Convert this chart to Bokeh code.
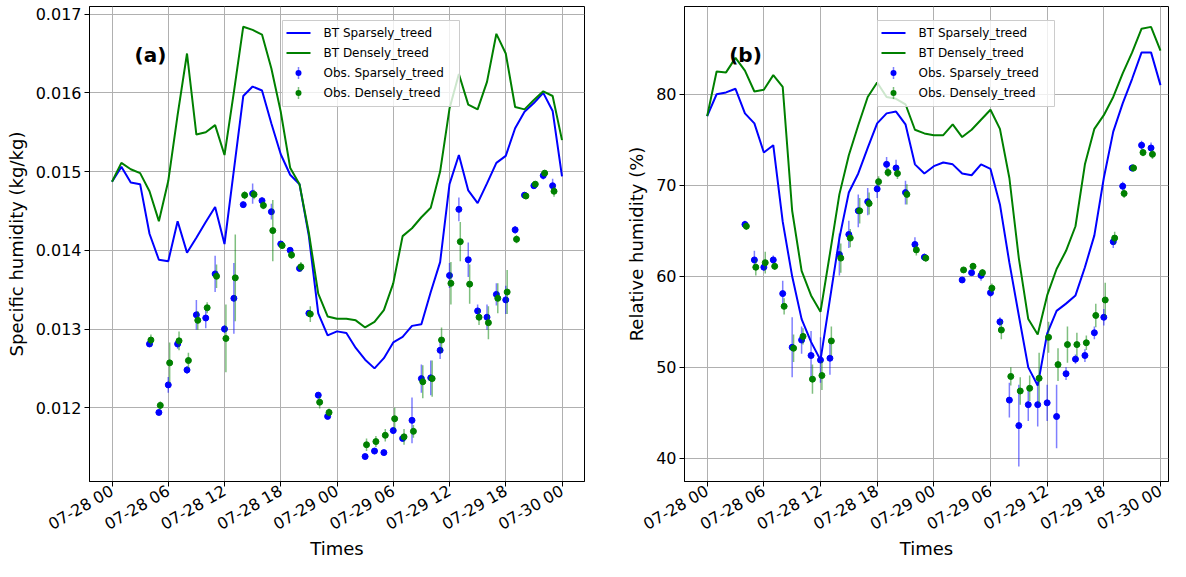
import math
from bokeh.plotting import figure
from bokeh.layouts import row
from bokeh.models import ColumnDataSource, FixedTicker, Range1d, Label, BoxAnnotation, Arrow
from bokeh.transform import dodge
from bokeh.embed import file_html
from bokeh.resources import INLINE

# ---------------- data ----------------
hours = list(range(49))
tick_hours = [0, 6, 12, 18, 24, 30, 36, 42, 48]
tick_labels = ["07-28 00", "07-28 06", "07-28 12", "07-28 18", "07-29 00",
               "07-29 06", "07-29 12", "07-29 18", "07-30 00"]
obs_hours = list(range(4, 24)) + list(range(27, 48))

sh_ticks = [0.012, 0.013, 0.014, 0.015, 0.016, 0.017]
sh_tick_labels = ["0.012", "0.013", "0.014", "0.015", "0.016", "0.017"]
rh_ticks = [40, 50, 60, 70, 80]
rh_tick_labels = ["40", "50", "60", "70", "80"]

sh_bt_sparse = [0.01487, 0.01506, 0.01486, 0.01484, 0.01421, 0.01388, 0.01386, 0.01437, 0.01397, 0.01416,
                0.01436, 0.01455, 0.01408, 0.01502, 0.01596, 0.01608, 0.01603, 0.01561, 0.01522, 0.01496,
                0.01484, 0.01418, 0.01320, 0.01292, 0.01297, 0.01295, 0.01276, 0.01261, 0.01250, 0.01263,
                0.01283, 0.01290, 0.01304, 0.01306, 0.01347, 0.01385, 0.01484, 0.01521, 0.01476, 0.01460,
                0.01485, 0.01511, 0.01520, 0.01555, 0.01576, 0.01587, 0.01600, 0.01577, 0.01494]
sh_bt_dense = [0.01487, 0.01511, 0.01503, 0.01498, 0.01475, 0.01437, 0.01488, 0.01572, 0.01650, 0.01547,
               0.01550, 0.01559, 0.01521, 0.01601, 0.01684, 0.01680, 0.01674, 0.01631, 0.01576, 0.01505,
               0.01484, 0.01422, 0.01345, 0.01316, 0.01313, 0.01313, 0.01311, 0.01302, 0.01309, 0.01324,
               0.01358, 0.01418, 0.01428, 0.01442, 0.01454, 0.01500, 0.01580, 0.01624, 0.01585, 0.01579,
               0.01614, 0.01675, 0.01650, 0.01582, 0.01579, 0.01591, 0.01602, 0.01596, 0.01540]
sh_obs_sparse = [0.01281, 0.01194, 0.01229, 0.01281, 0.01248, 0.01318, 0.01314, 0.01370, 0.01300, 0.01339,
                 0.01458, 0.01472, 0.01463, 0.01449, 0.01408, 0.01400, 0.01377, 0.01320, 0.01216, 0.01189,
                 0.01138, 0.01145, 0.01143, 0.01171, 0.01161, 0.01184, 0.01237, 0.01238, 0.01273, 0.01368,
                 0.01452, 0.01388, 0.01323, 0.01315, 0.01344, 0.01337, 0.01426, 0.01470, 0.01482, 0.01495,
                 0.01482]
sh_obs_dense = [0.01286, 0.01203, 0.01257, 0.01285, 0.01260, 0.01311, 0.01327, 0.01367, 0.01288, 0.01365,
                0.01470, 0.01471, 0.01457, 0.01425, 0.01406, 0.01394, 0.01379, 0.01319, 0.01207, 0.01194,
                0.01153, 0.01157, 0.01165, 0.01186, 0.01163, 0.01170, 0.01233, 0.01237, 0.01286, 0.01358,
                0.01411, 0.01357, 0.01315, 0.01308, 0.01339, 0.01347, 0.01414, 0.01469, 0.01484, 0.01498,
                0.01475]
sh_err_sparse = [0.00004, 0.00003, 0.00010, 0.00006, 0.00005, 0.00019, 0.00013, 0.00023, 0.00005, 0.00045,
                 0.00004, 0.00013, 0.00004, 0.00010, 0.00003, 0.00004, 0.00004, 0.00004, 0.00004, 0.00003,
                 0.00003, 0.00004, 0.00003, 0.00004, 0.00003, 0.00029, 0.00018, 0.00022, 0.00011, 0.00016,
                 0.00015, 0.00022, 0.00008, 0.00016, 0.00014, 0.00018, 0.00005, 0.00004, 0.00003, 0.00005,
                 0.00009]
sh_err_dense = [0.00007, 0.00005, 0.00026, 0.00012, 0.00010, 0.00012, 0.00007, 0.00015, 0.00043, 0.00055,
                0.00005, 0.00006, 0.00005, 0.00039, 0.00004, 0.00005, 0.00006, 0.00010, 0.00008, 0.00005,
                0.00008, 0.00007, 0.00008, 0.00014, 0.00010, 0.00008, 0.00021, 0.00023, 0.00016, 0.00027,
                0.00025, 0.00025, 0.00010, 0.00021, 0.00019, 0.00028, 0.00005, 0.00004, 0.00004, 0.00004,
                0.00007]

rh_bt_sparse = [77.6, 80.0, 80.2, 80.6, 77.9, 76.8, 73.6, 74.4, 66.0, 60.0,
                55.3, 52.8, 50.8, 57.5, 64.2, 69.2, 71.3, 74.1, 76.8, 77.9,
                78.1, 76.7, 72.3, 71.3, 72.1, 72.5, 72.3, 71.3, 71.1, 72.3,
                71.8, 67.9, 61.5, 55.7, 50.0, 48.0, 53.7, 56.2, 57.0, 57.9,
                61.0, 64.5, 70.8, 75.9, 79.0, 81.7, 84.6, 84.6, 81.0]
rh_bt_dense = [77.6, 82.5, 82.4, 84.0, 82.6, 80.3, 80.5, 82.1, 80.8, 67.2,
               60.6, 57.9, 56.1, 62.5, 69.0, 73.3, 76.6, 79.7, 81.3, 79.7,
               79.5, 78.9, 76.1, 75.7, 75.5, 75.5, 76.7, 75.3, 76.1, 77.2,
               78.3, 76.2, 70.8, 62.0, 55.3, 53.6, 57.9, 60.8, 62.8, 65.5,
               72.3, 76.2, 77.7, 79.7, 82.3, 84.6, 87.2, 87.4, 84.8]
rh_obs_sparse = [65.7, 61.8, 61.0, 61.8, 58.1, 52.2, 53.0, 51.3, 50.8, 51.0,
                 62.4, 64.6, 67.2, 68.2, 69.6, 72.3, 71.9, 69.2, 63.5, 62.1,
                 59.6, 60.4, 60.1, 58.2, 55.0, 46.4, 43.6, 45.9, 45.9, 46.1,
                 44.6, 49.3, 50.9, 51.3, 53.8, 55.5, 63.8, 69.9, 71.9, 74.4,
                 74.1]
rh_obs_dense = [65.5, 61.0, 61.5, 61.1, 56.7, 52.1, 53.4, 48.7, 49.1, 52.9,
                62.0, 64.2, 67.2, 68.0, 70.4, 71.4, 71.3, 69.0, 62.9, 62.0,
                60.7, 61.1, 60.4, 58.7, 54.1, 49.0, 47.4, 47.7, 48.8, 53.3,
                50.3, 52.5, 52.5, 52.7, 55.7, 57.4, 64.2, 69.1, 71.9, 73.6,
                73.4]
rh_err_sparse = [0.4, 1.0, 0.4, 0.5, 1.4, 3.3, 1.5, 2.7, 2.5, 1.8,
                 2.3, 1.5, 1.8, 1.5, 1.0, 0.8, 0.9, 1.3, 0.8, 0.4,
                 0.3, 0.3, 0.6, 0.5, 0.5, 1.9, 4.5, 1.8, 2.4, 2.0,
                 3.5, 0.7, 0.5, 0.7, 0.7, 0.9, 0.7, 0.5, 0.4, 0.5,
                 0.6]
rh_err_dense = [0.4, 0.9, 1.2, 0.4, 0.9, 1.5, 0.9, 1.6, 1.6, 1.6,
                1.6, 1.0, 1.4, 1.2, 0.6, 0.5, 0.6, 1.1, 0.6, 0.4,
                0.3, 0.4, 0.4, 0.5, 1.0, 1.0, 1.5, 1.4, 2.8, 1.7,
                1.8, 2.0, 1.3, 0.8, 1.3, 1.9, 0.7, 0.5, 0.4, 0.4,
                0.5]

series_labels = ["BT Sparsely_treed", "BT Densely_treed", "Obs. Sparsely_treed", "Obs. Densely_treed"]
x_title = "Times"

# ---------------- styling ----------------
FONT = "DejaVu Sans"
BLUE = "#0000ff"
GREEN = "#008000"
FIG_H = 561
TOP = 6
FRAME_H = 467   # expected frame height (legend and panel letters are placed from it)


def err_source(x, y, e):
    return ColumnDataSource(dict(x=x, y=y,
                                 lo=[a - b for a, b in zip(y, e)],
                                 hi=[a + b for a, b in zip(y, e)]))


def screen_line(p, x0, y0, x1, y1, color, width, alpha=1.0, cap="butt"):
    p.add_layout(Arrow(start=None, end=None, x_start=x0, y_start=y0, x_end=x1, y_end=y1,
                       start_units="screen", end_units="screen", line_color=color,
                       line_width=width, line_alpha=alpha, line_cap=cap))


def add_legend(p):
    top = FRAME_H - 6
    bottom = top - 86
    left, right = 193, 370
    p.add_layout(BoxAnnotation(left=left, right=right, top=top, bottom=bottom,
                               left_units="screen", right_units="screen",
                               top_units="screen", bottom_units="screen",
                               fill_color="white", fill_alpha=0.8,
                               line_color="#cccccc", line_alpha=1.0, line_width=1))
    colors = [BLUE, GREEN, BLUE, GREEN]
    for i, (lab, col) in enumerate(zip(series_labels, colors)):
        yy = top - 12.5 - 20 * i
        if i < 2:
            screen_line(p, left + 4, yy, left + 28, yy, col, 2)
        else:
            cx = left + 16
            screen_line(p, cx, yy - 6, cx, yy + 6, col, 1.5, alpha=0.5)
            screen_line(p, cx, yy - 0.05, cx, yy + 0.05, col, 6, cap="round")
        p.add_layout(Label(x=left + 41, y=yy, x_units="screen", y_units="screen", text=lab,
                           text_font=FONT, text_font_size="12px", text_baseline="middle",
                           text_align="left", text_color="black"))


def make_panel(letter, ylabel, yr, yticks, ylabels, bt_s, bt_d, ob_s, ob_d, er_s, er_d,
               width, min_left, min_right, x_end):
    p = figure(width=width, height=FIG_H, output_backend="svg", toolbar_location=None,
               x_range=Range1d(-2.4, x_end), y_range=Range1d(*yr),
               min_border_left=min_left, min_border_right=min_right,
               min_border_top=TOP, min_border_bottom=0)
    p.background_fill_color = "white"
    p.border_fill_color = "white"
    p.outline_line_color = "black"
    p.outline_line_width = 1

    p.xaxis.ticker = FixedTicker(ticks=tick_hours)
    p.xaxis.major_label_overrides = {h: l for h, l in zip(tick_hours, tick_labels)}
    p.xaxis.major_label_orientation = math.pi / 6
    p.yaxis.ticker = FixedTicker(ticks=yticks)
    p.yaxis.major_label_overrides = {t: l for t, l in zip(yticks, ylabels)}
    p.xgrid.ticker = FixedTicker(ticks=tick_hours)
    p.ygrid.ticker = FixedTicker(ticks=yticks)
    for g in (p.xgrid[0], p.ygrid[0]):
        g.grid_line_color = "#b0b0b0"
        g.grid_line_width = 1

    p.xaxis.axis_label = x_title
    p.yaxis.axis_label = ylabel
    for ax in (p.xaxis[0], p.yaxis[0]):
        ax.major_label_text_font = FONT
        ax.major_label_text_font_size = "16px"
        ax.major_label_text_color = "black"
        ax.axis_label_text_font = FONT
        ax.axis_label_text_font_size = "18px"
        ax.axis_label_text_font_style = "normal"
        ax.axis_label_text_color = "black"
        ax.major_tick_in = 0
        ax.major_tick_out = 5
        ax.minor_tick_in = 0
        ax.minor_tick_out = 0
        ax.major_tick_line_color = "black"
        ax.axis_line_color = "black"
        ax.major_label_standoff = 3
    p.xaxis.axis_label_standoff = -7
    p.yaxis.axis_label_standoff = 6

    p.line(hours, bt_s, line_color=BLUE, line_width=2)
    p.line(hours, bt_d, line_color=GREEN, line_width=2)

    src_s = err_source(obs_hours, ob_s, er_s)
    src_d = err_source(obs_hours, ob_d, er_d)
    p.segment(x0="x", y0="lo", x1="x", y1="hi", source=src_s, line_color=BLUE,
              line_alpha=0.5, line_width=1.5)
    p.scatter("x", "y", source=src_s, size=6, fill_color=BLUE, line_color=BLUE)
    p.segment(x0=dodge("x", 0.15), y0="lo", x1=dodge("x", 0.15), y1="hi", source=src_d,
              line_color=GREEN, line_alpha=0.5, line_width=1.5)
    p.scatter(dodge("x", 0.15), "y", source=src_d, size=6, fill_color=GREEN, line_color=GREEN)

    add_legend(p)
    p.add_layout(Label(x=61, y=FRAME_H - 40, x_units="screen", y_units="screen", text=letter,
                       text_font=FONT, text_font_size="20px", text_font_style="bold",
                       text_align="center", text_baseline="middle", text_color="black"))
    return p


p1 = make_panel("(a)", "Specific humidity (kg/kg)", (0.011063, 0.017097), sh_ticks, sh_tick_labels,
                sh_bt_sparse, sh_bt_dense, sh_obs_sparse, sh_obs_dense, sh_err_sparse, sh_err_dense,
                width=594, min_left=89, min_right=10, x_end=50.4)
p2 = make_panel("(b)", "Relative humidity (%)", (37.46, 89.64), rh_ticks, rh_tick_labels,
                rh_bt_sparse, rh_bt_dense, rh_obs_sparse, rh_obs_dense, rh_err_sparse, rh_err_dense,
                width=576, min_left=90, min_right=2, x_end=-2.3 + 484 / 9.444 - 0.1)

layout = row(p1, p2)
open("out.html", "w").write(file_html(layout, INLINE))
